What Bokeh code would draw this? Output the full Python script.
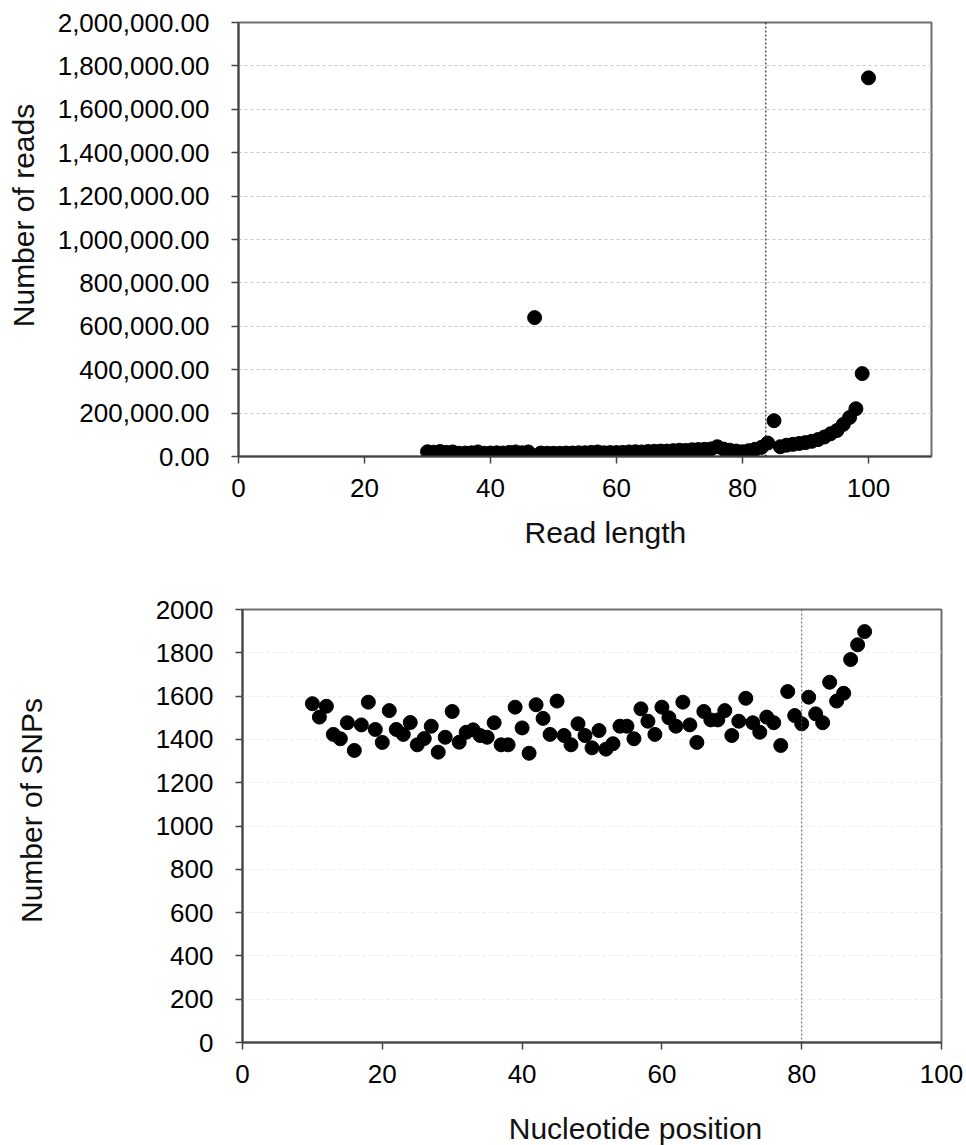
import math

from bokeh.core.properties import value
from bokeh.embed import file_html
from bokeh.layouts import column, row
from bokeh.models import (ColumnDataSource, FixedTicker, NumeralTickFormatter,
                          Range1d, Span, Title)
from bokeh.plotting import figure
from bokeh.resources import INLINE

# --- Read length distribution ---
read_length = list(range(30, 101))
read_count = [
    22000, 20000, 23000, 19000, 21000, 15000, 16000, 17000, 21000, 15000,   # 30-39
    16000, 17000, 16000, 19000, 21000, 17000, 21000, 640000, 16000, 15000,  # 40-49
    15000, 15000, 16000, 16000, 17000, 17000, 19000, 21000, 17000, 18000,   # 50-59
    18000, 19000, 21000, 22000, 21000, 23000, 24000, 25000, 25000, 27000,   # 60-69
    29000, 28000, 31000, 32000, 33000, 35000, 45000, 34000, 29000, 25000,   # 70-79
    22000, 27000, 33000, 42000, 62000, 165000, 45000, 52000, 56000, 60000,  # 80-89
    64000, 70000, 78000, 90000, 105000, 120000, 148000, 180000, 220000, 382000,  # 90-99
    1745000,                                                                # 100
]
read_cutoff = 83.7

# --- SNPs per nucleotide position ---
position = list(range(10, 90))
snp_count = [
    1565, 1503, 1553, 1423, 1403, 1477, 1349, 1467, 1572, 1446,   # 10-19
    1386, 1533, 1446, 1423, 1478, 1375, 1404, 1461, 1341, 1410,   # 20-29
    1529, 1387, 1433, 1444, 1418, 1410, 1477, 1375, 1375, 1549,   # 30-39
    1453, 1336, 1560, 1497, 1423, 1577, 1418, 1375, 1472, 1418,   # 40-49
    1361, 1441, 1355, 1380, 1461, 1461, 1403, 1541, 1484, 1423,   # 50-59
    1549, 1500, 1461, 1572, 1467, 1386, 1529, 1490, 1490, 1533,   # 60-69
    1418, 1484, 1590, 1477, 1433, 1503, 1477, 1372, 1621, 1510,   # 70-79
    1472, 1595, 1518, 1477, 1664, 1577, 1613, 1769, 1837, 1898,   # 80-89
]
snp_cutoff = 80

x_ticks = [0, 20, 40, 60, 80, 100]
reads_ticks = list(range(0, 2000001, 200000))
snp_ticks = list(range(0, 2001, 200))

reads_xlabel = "Read length"
reads_ylabel = "Number of reads"
snp_xlabel = "Nucleotide position"
snp_ylabel = "Number of SNPs"

FONT = "Liberation Sans"
TICK_SIZE = "26px"
LABEL_SIZE = "30px"

SIDE_W = 50          # width of the strip that carries a y-axis title
ROW1_H = 572
ROW2_H = 525
XLAB_H = 1145 - ROW1_H - ROW2_H

# plot borders (pixels) of the two panels
P1_TOP, P1_BOTTOM = 22, ROW1_H - 456
P2_TOP, P2_BOTTOM = 609 - ROW1_H, ROW1_H + ROW2_H - 1042


def style(p, x_tick_values, y_tick_values, grid_color):
    p.outline_line_color = "#6e6e6e"
    p.outline_line_width = 2
    p.background_fill_color = "white"
    p.border_fill_color = "white"
    for ax in (p.xaxis[0], p.yaxis[0]):
        ax.axis_line_color = "#444444"
        ax.axis_line_width = 2
        ax.major_tick_line_color = "#444444"
        ax.major_tick_line_width = 1.5
        ax.major_tick_in = 0
        ax.major_tick_out = 7
        ax.minor_tick_line_color = None
        ax.major_label_text_font = FONT
        ax.major_label_text_font_size = TICK_SIZE
        ax.major_label_text_color = "black"
    p.xaxis[0].major_label_standoff = 15
    p.yaxis[0].major_label_standoff = 22
    p.xaxis[0].ticker = FixedTicker(ticks=x_tick_values)
    p.yaxis[0].ticker = FixedTicker(ticks=y_tick_values)
    p.xgrid.grid_line_color = None
    p.ygrid.grid_line_color = grid_color
    p.ygrid.grid_line_dash = "3 3"
    p.ygrid.grid_line_width = 1


def text_strip(width, height, text, x, y_from_top, angle=0.0, top=0, bottom=0):
    """A bare canvas whose coordinates are pixels (y measured up from its bottom
    edge); it carries one axis title, centred on (x, y_from_top)."""
    s = figure(width=width, height=height, output_backend="svg", toolbar_location=None,
               x_range=Range1d(0, width), y_range=Range1d(bottom, height - top),
               min_border_left=0, min_border_right=0,
               min_border_top=top, min_border_bottom=bottom,
               x_axis_location=None, y_axis_location=None)
    s.outline_line_color = None
    s.background_fill_color = "white"
    s.border_fill_color = "white"
    s.xgrid.grid_line_color = None
    s.ygrid.grid_line_color = None
    s.text(x=[x], y=[height - y_from_top], text=[text], angle=angle, text_align="center",
           text_baseline="middle", text_font=value(FONT),
           text_font_size=value(LABEL_SIZE), text_color="#111111")
    return s


# Top panel: number of reads by read length
p1 = figure(width=966 - SIDE_W, height=ROW1_H, output_backend="svg", toolbar_location=None,
            x_range=Range1d(0, 110), y_range=Range1d(0, 2000000),
            min_border_left=238 - SIDE_W, min_border_right=35,
            min_border_top=P1_TOP, min_border_bottom=P1_BOTTOM)
style(p1, x_ticks, reads_ticks, "#c8c8c8")
p1.yaxis[0].formatter = NumeralTickFormatter(format="0,0.00")
p1.add_layout(Span(location=read_cutoff, dimension="height", line_color="black",
                   line_width=1, line_dash="2 2"))
p1.scatter("x", "y", source=ColumnDataSource(dict(x=read_length, y=read_count)),
           size=14, marker="circle", fill_color="black", line_color="black")
p1.add_layout(Title(text=reads_xlabel, align="left", standoff=28, offset=286,
                    text_font=FONT, text_font_size=LABEL_SIZE,
                    text_font_style="normal", text_color="#111111"), "below")
left1 = text_strip(SIDE_W, ROW1_H, reads_ylabel, 23, 215, angle=math.pi / 2,
                   top=P1_TOP, bottom=P1_BOTTOM)

# Bottom panel: number of SNPs by nucleotide position
p2 = figure(width=966 - SIDE_W, height=ROW2_H, output_backend="svg", toolbar_location=None,
            x_range=Range1d(0, 100), y_range=Range1d(0, 2000),
            min_border_left=242 - SIDE_W, min_border_right=25,
            min_border_top=P2_TOP, min_border_bottom=P2_BOTTOM)
style(p2, x_ticks, snp_ticks, "#ececec")
p2.add_layout(Span(location=snp_cutoff, dimension="height", line_color="#555555",
                   line_width=1, line_dash="2 2"))
p2.scatter("x", "y", source=ColumnDataSource(dict(x=position, y=snp_count)),
           size=14, marker="circle", fill_color="black", line_color="black")
left2 = text_strip(SIDE_W, ROW2_H, snp_ylabel, 31, 810 - ROW1_H, angle=math.pi / 2,
                   top=P2_TOP, bottom=P2_BOTTOM)
bottom2 = text_strip(966, XLAB_H, snp_xlabel, 635, 1128 - ROW1_H - ROW2_H)

layout = column(row(left1, p1, spacing=0), row(left2, p2, spacing=0), bottom2, spacing=0)
open("out.html", "w").write(file_html(layout, INLINE))
